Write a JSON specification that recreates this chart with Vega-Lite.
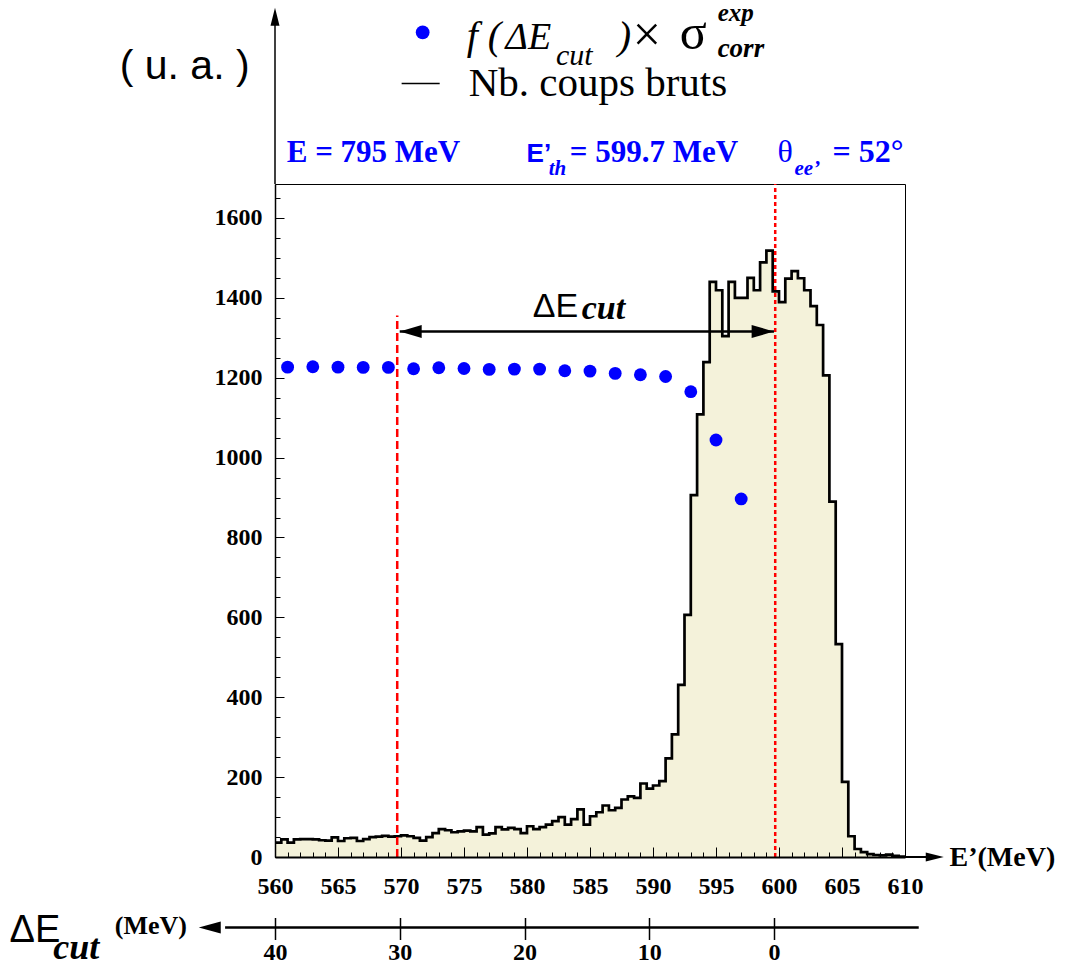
{
  "$schema": "https://vega.github.io/schema/vega-lite/v6.json",
  "autosize": {"type": "none"},
  "width": 630,
  "height": 673,
  "padding": {"left": 275, "top": 184, "right": 162, "bottom": 111},
  "background": "white",
  "config": {"view": {"stroke": "black", "strokeWidth": 1}},
  "datasets": {
    "hist": [
      {"E": 560, "n": 36}, {"E": 560.5, "n": 44}, {"E": 561, "n": 36}, {"E": 561.5, "n": 44}, {"E": 562, "n": 45},
      {"E": 562.5, "n": 45}, {"E": 563, "n": 44}, {"E": 563.5, "n": 42}, {"E": 564, "n": 41}, {"E": 564.5, "n": 49},
      {"E": 565, "n": 40}, {"E": 565.5, "n": 47}, {"E": 566, "n": 48}, {"E": 566.5, "n": 40}, {"E": 567, "n": 45},
      {"E": 567.5, "n": 50}, {"E": 568, "n": 51}, {"E": 568.5, "n": 53}, {"E": 569, "n": 51}, {"E": 569.5, "n": 52},
      {"E": 570, "n": 54}, {"E": 570.5, "n": 52}, {"E": 571, "n": 48}, {"E": 571.5, "n": 41}, {"E": 572, "n": 50},
      {"E": 572.5, "n": 60}, {"E": 573, "n": 70}, {"E": 573.5, "n": 67}, {"E": 574, "n": 62}, {"E": 574.5, "n": 64},
      {"E": 575, "n": 66}, {"E": 575.5, "n": 64}, {"E": 576, "n": 75}, {"E": 576.5, "n": 56}, {"E": 577, "n": 59},
      {"E": 577.5, "n": 75}, {"E": 578, "n": 69}, {"E": 578.5, "n": 73}, {"E": 579, "n": 70}, {"E": 579.5, "n": 60},
      {"E": 580, "n": 77}, {"E": 580.5, "n": 70}, {"E": 581, "n": 75}, {"E": 581.5, "n": 81}, {"E": 582, "n": 90},
      {"E": 582.5, "n": 100}, {"E": 583, "n": 81}, {"E": 583.5, "n": 95}, {"E": 584, "n": 119}, {"E": 584.5, "n": 81},
      {"E": 585, "n": 102}, {"E": 585.5, "n": 112}, {"E": 586, "n": 129}, {"E": 586.5, "n": 117}, {"E": 587, "n": 123},
      {"E": 587.5, "n": 144}, {"E": 588, "n": 152}, {"E": 588.5, "n": 148}, {"E": 589, "n": 184}, {"E": 589.5, "n": 171},
      {"E": 590, "n": 179}, {"E": 590.5, "n": 190}, {"E": 591, "n": 247}, {"E": 591.5, "n": 307}, {"E": 592, "n": 431},
      {"E": 592.5, "n": 606}, {"E": 593, "n": 906}, {"E": 593.5, "n": 1108}, {"E": 594, "n": 1239}, {"E": 594.5, "n": 1440},
      {"E": 595, "n": 1419}, {"E": 595.5, "n": 1304}, {"E": 596, "n": 1440}, {"E": 596.5, "n": 1400}, {"E": 597, "n": 1400},
      {"E": 597.5, "n": 1450}, {"E": 598, "n": 1419}, {"E": 598.5, "n": 1489}, {"E": 599, "n": 1518}, {"E": 599.5, "n": 1416},
      {"E": 600, "n": 1389}, {"E": 600.5, "n": 1448}, {"E": 601, "n": 1467}, {"E": 601.5, "n": 1449}, {"E": 602, "n": 1419},
      {"E": 602.5, "n": 1379}, {"E": 603, "n": 1332}, {"E": 603.5, "n": 1206}, {"E": 604, "n": 890}, {"E": 604.5, "n": 533},
      {"E": 605, "n": 188}, {"E": 605.5, "n": 52}, {"E": 606, "n": 20}, {"E": 606.5, "n": 12}, {"E": 607, "n": 7},
      {"E": 607.5, "n": 5}, {"E": 608, "n": 4}, {"E": 608.5, "n": 6}, {"E": 609, "n": 3}, {"E": 609.5, "n": 1},
      {"E": 610, "n": 1}
    ],
    "dots": [
      {"E": 561, "f": 1226.5}, {"E": 563, "f": 1227.5}, {"E": 565, "f": 1226.5}, {"E": 567, "f": 1225.8},
      {"E": 569, "f": 1225.8}, {"E": 571, "f": 1222.5}, {"E": 573, "f": 1225}, {"E": 575, "f": 1223},
      {"E": 577, "f": 1220.8}, {"E": 579, "f": 1221.5}, {"E": 581, "f": 1221.5}, {"E": 583, "f": 1217.5},
      {"E": 585, "f": 1216.5}, {"E": 587, "f": 1210.8}, {"E": 589, "f": 1207.5}, {"E": 591, "f": 1203},
      {"E": 593, "f": 1165}, {"E": 595, "f": 1044}, {"E": 597, "f": 896.5}
    ]
  },
  "layer": [
    {
      "data": {"name": "hist"},
      "mark": {"type": "area", "interpolate": "step-after", "fill": "#F4F2DA"},
      "encoding": {
        "x": {"field": "E", "type": "quantitative",
          "scale": {"domain": [560, 610], "nice": false, "zero": false},
          "axis": {"orient": "bottom", "values": [560, 565, 570, 575, 580, 585, 590, 595, 600, 605, 610], "zindex": 1,
            "tickSize": -10, "tickWidth": 1, "tickColor": "black", "domainColor": "black", "domainWidth": 2,
            "grid": false, "title": null, "format": "d", "labelFont": "Liberation Serif", "labelFontWeight": "bold",
            "labelFontSize": 24, "labelColor": "black", "labelPadding": 27, "labelFlush": false, "labelOverlap": false}},
        "y": {"field": "n", "type": "quantitative",
          "scale": {"domain": [0, 1685], "nice": false, "zero": false},
          "axis": {"orient": "left", "values": [0, 200, 400, 600, 800, 1000, 1200, 1400, 1600], "zindex": 1,
            "tickSize": -9, "tickWidth": 1, "tickColor": "black", "domainColor": "black", "domainWidth": 1.5,
            "grid": false, "title": null, "format": "d", "labelFont": "Liberation Serif", "labelFontWeight": "bold",
            "labelFontSize": 24, "labelColor": "black", "labelPadding": 22, "labelOverlap": false}}
      }
    },
    {
      "data": {"name": "hist"},
      "layer": [
        {
          "mark": {"type": "line", "interpolate": "step-after", "color": "black", "strokeWidth": 2.7},
          "encoding": {
            "x": {"field": "E", "type": "quantitative", "scale": {"domain": [560, 610], "nice": false, "zero": false}, "axis": null},
            "y": {"field": "n", "type": "quantitative", "scale": {"domain": [0, 1685], "nice": false, "zero": false}, "axis": null}
          }
        },
        {
          "data": {"values": [{}]},
          "mark": {"type": "rule", "color": "#FF0000", "strokeWidth": 2.5, "strokeDash": [8, 4]},
          "encoding": {
            "x": {"datum": 569.7, "type": "quantitative", "axis": null},
            "y": {"datum": 0, "type": "quantitative", "axis": null},
            "y2": {"datum": 1356}
          }
        },
        {
          "data": {"values": [{}]},
          "mark": {"type": "rule", "color": "#FF0000", "strokeWidth": 2.5, "strokeDash": [4, 3]},
          "encoding": {
            "x": {"datum": 599.7, "type": "quantitative", "axis": null},
            "y": {"datum": 0, "type": "quantitative", "axis": null},
            "y2": {"datum": 1685}
          }
        },
        {
          "data": {"name": "dots"},
          "mark": {"type": "point", "filled": true, "color": "#0000FF", "size": 165, "opacity": 1},
          "encoding": {
            "x": {"field": "E", "type": "quantitative", "axis": null},
            "y": {"field": "f", "type": "quantitative", "axis": null}
          }
        },
        {
          "data": {"values": [{}]},
          "mark": {"type": "rule", "color": "black", "strokeWidth": 2.5},
          "encoding": {
            "x": {"datum": 569.9, "type": "quantitative", "axis": null},
            "x2": {"datum": 599.6},
            "y": {"datum": 1315.7, "type": "quantitative", "axis": null}
          }
        },
        {
          "data": {"values": [{}]},
          "mark": {"type": "point", "shape": "M-1,0L1,-0.6L1,0.6Z", "filled": true, "color": "black", "size": 484, "opacity": 1},
          "encoding": {
            "x": {"datum": 570.77, "type": "quantitative", "axis": null},
            "y": {"datum": 1315.7, "type": "quantitative", "axis": null}
          }
        },
        {
          "data": {"values": [{}]},
          "mark": {"type": "point", "shape": "M1,0L-1,-0.6L-1,0.6Z", "filled": true, "color": "black", "size": 484, "opacity": 1},
          "encoding": {
            "x": {"datum": 598.7, "type": "quantitative", "axis": null},
            "y": {"datum": 1315.7, "type": "quantitative", "axis": null}
          }
        },
        {
          "data": {"values": [{}]},
          "mark": {"type": "rule", "color": "black", "strokeWidth": 1.5},
          "encoding": {
            "x": {"datum": 560, "type": "quantitative", "axis": null},
            "y": {"datum": 1685, "type": "quantitative", "axis": null},
            "y2": {"datum": 2110}
          }
        },
        {
          "data": {"values": [{}]},
          "mark": {"type": "point", "shape": "M0,-1L0.5,1L-0.5,1Z", "filled": true, "color": "black", "size": 324, "opacity": 1},
          "encoding": {
            "x": {"datum": 560, "type": "quantitative", "axis": null},
            "y": {"datum": 2104, "type": "quantitative", "axis": null}
          }
        },
        {
          "data": {"values": [{}]},
          "mark": {"type": "rule", "color": "black", "strokeWidth": 2},
          "encoding": {
            "x": {"datum": 610, "type": "quantitative", "axis": null},
            "x2": {"datum": 612.5},
            "y": {"datum": 0, "type": "quantitative", "axis": null}
          }
        },
        {
          "data": {"values": [{}]},
          "mark": {"type": "point", "shape": "M1,0L-1,-0.5L-1,0.5Z", "filled": true, "color": "black", "size": 324, "opacity": 1},
          "encoding": {
            "x": {"datum": 612.36, "type": "quantitative", "axis": null},
            "y": {"datum": 0, "type": "quantitative", "axis": null}
          }
        },
        {
          "data": {"values": [{}]},
          "mark": {"type": "point", "shape": "M-1,0L1,-0.55L1,0.55Z", "filled": true, "color": "black", "size": 484, "opacity": 1},
          "encoding": {
            "x": {"datum": 554.82, "type": "quantitative", "axis": null},
            "y": {"datum": -176.5, "type": "quantitative", "axis": null}
          }
        },
        {
          "data": {"values": [{}]},
          "mark": {"type": "point", "filled": true, "color": "#0000FF", "size": 190, "opacity": 1},
          "encoding": {
            "x": {"datum": 571.72, "type": "quantitative", "axis": null},
            "y": {"datum": 2064.4, "type": "quantitative", "axis": null}
          }
        },
        {
          "data": {"values": [{}]},
          "mark": {"type": "rule", "color": "black", "strokeWidth": 1.5},
          "encoding": {
            "x": {"datum": 570.05, "type": "quantitative", "axis": null},
            "x2": {"datum": 573.07},
            "y": {"datum": 1936.7, "type": "quantitative", "axis": null}
          }
        },
        {
          "data": {"values": [{"t": "( u. a. )"}]},
          "mark": {"type": "text", "font": "Liberation Sans", "fontSize": 41, "align": "center", "baseline": "alphabetic", "color": "black"},
          "encoding": {
            "text": {"field": "t"},
            "x": {"datum": 552.83, "type": "quantitative", "axis": null},
            "y": {"datum": 1946.9, "type": "quantitative", "axis": null}
          }
        },
        {
          "data": {"values": [{"t": "f ("}]},
          "mark": {"type": "text", "font": "Liberation Serif", "fontSize": 40, "fontStyle": "italic", "align": "left", "baseline": "alphabetic", "color": "black"},
          "encoding": {
            "text": {"field": "t"},
            "x": {"datum": 575.21, "type": "quantitative", "axis": null},
            "y": {"datum": 2021.8, "type": "quantitative", "axis": null}
          }
        },
        {
          "data": {"values": [{"t": "ΔE"}]},
          "mark": {"type": "text", "font": "Liberation Serif", "fontSize": 38, "fontStyle": "italic", "align": "left", "baseline": "alphabetic", "color": "black"},
          "encoding": {
            "text": {"field": "t"},
            "x": {"datum": 578.3, "type": "quantitative", "axis": null},
            "y": {"datum": 2021.8, "type": "quantitative", "axis": null}
          }
        },
        {
          "data": {"values": [{"t": "cut"}]},
          "mark": {"type": "text", "font": "Liberation Serif", "fontSize": 30, "fontStyle": "italic", "align": "left", "baseline": "alphabetic", "color": "black"},
          "encoding": {
            "text": {"field": "t"},
            "x": {"datum": 582.3, "type": "quantitative", "axis": null},
            "y": {"datum": 1981.7, "type": "quantitative", "axis": null}
          }
        },
        {
          "data": {"values": [{"t": ")"}]},
          "mark": {"type": "text", "font": "Liberation Serif", "fontSize": 40, "fontStyle": "italic", "align": "left", "baseline": "alphabetic", "color": "black"},
          "encoding": {
            "text": {"field": "t"},
            "x": {"datum": 587.2, "type": "quantitative", "axis": null},
            "y": {"datum": 2021.8, "type": "quantitative", "axis": null}
          }
        },
        {
          "data": {"values": [{"t": "×"}]},
          "mark": {"type": "text", "font": "Liberation Serif", "fontSize": 50, "align": "left", "baseline": "alphabetic", "color": "black"},
          "encoding": {
            "text": {"field": "t"},
            "x": {"datum": 588.4, "type": "quantitative", "axis": null},
            "y": {"datum": 2019, "type": "quantitative", "axis": null}
          }
        },
        {
          "data": {"values": [{"t": "σ"}]},
          "mark": {"type": "text", "font": "Liberation Serif", "fontSize": 50, "align": "left", "baseline": "alphabetic", "color": "black"},
          "encoding": {
            "text": {"field": "t"},
            "x": {"datum": 592.12, "type": "quantitative", "axis": null},
            "y": {"datum": 2021.8, "type": "quantitative", "axis": null}
          }
        },
        {
          "data": {"values": [{"t": "exp"}]},
          "mark": {"type": "text", "font": "Liberation Serif", "fontSize": 25, "fontStyle": "italic", "fontWeight": "bold", "align": "left", "baseline": "alphabetic", "color": "black"},
          "encoding": {
            "text": {"field": "t"},
            "x": {"datum": 595.13, "type": "quantitative", "axis": null},
            "y": {"datum": 2092, "type": "quantitative", "axis": null}
          }
        },
        {
          "data": {"values": [{"t": "corr"}]},
          "mark": {"type": "text", "font": "Liberation Serif", "fontSize": 27, "fontStyle": "italic", "fontWeight": "bold", "align": "left", "baseline": "alphabetic", "color": "black"},
          "encoding": {
            "text": {"field": "t"},
            "x": {"datum": 595.13, "type": "quantitative", "axis": null},
            "y": {"datum": 2001.8, "type": "quantitative", "axis": null}
          }
        },
        {
          "data": {"values": [{"t": "Nb. coups bruts"}]},
          "mark": {"type": "text", "font": "Liberation Serif", "fontSize": 41, "align": "left", "baseline": "alphabetic", "color": "black"},
          "encoding": {
            "text": {"field": "t"},
            "x": {"datum": 575.37, "type": "quantitative", "axis": null},
            "y": {"datum": 1904.1, "type": "quantitative", "axis": null}
          }
        },
        {
          "data": {"values": [{"t": "E = 795 MeV"}]},
          "mark": {"type": "text", "font": "Liberation Serif", "fontSize": 31, "fontWeight": "bold", "align": "left", "baseline": "alphabetic", "color": "#0000FF"},
          "encoding": {
            "text": {"field": "t"},
            "x": {"datum": 560.93, "type": "quantitative", "axis": null},
            "y": {"datum": 1738.9, "type": "quantitative", "axis": null}
          }
        },
        {
          "data": {"values": [{"t": "E’"}]},
          "mark": {"type": "text", "font": "Liberation Sans", "fontSize": 26, "fontWeight": "bold", "align": "left", "baseline": "alphabetic", "color": "#0000FF"},
          "encoding": {
            "text": {"field": "t"},
            "x": {"datum": 579.97, "type": "quantitative", "axis": null},
            "y": {"datum": 1738.9, "type": "quantitative", "axis": null}
          }
        },
        {
          "data": {"values": [{"t": "th"}]},
          "mark": {"type": "text", "font": "Liberation Serif", "fontSize": 21, "fontStyle": "italic", "fontWeight": "bold", "align": "left", "baseline": "alphabetic", "color": "#0000FF"},
          "encoding": {
            "text": {"field": "t"},
            "x": {"datum": 581.72, "type": "quantitative", "axis": null},
            "y": {"datum": 1706.3, "type": "quantitative", "axis": null}
          }
        },
        {
          "data": {"values": [{"t": "= 599.7 MeV"}]},
          "mark": {"type": "text", "font": "Liberation Serif", "fontSize": 31, "fontWeight": "bold", "align": "left", "baseline": "alphabetic", "color": "#0000FF"},
          "encoding": {
            "text": {"field": "t"},
            "x": {"datum": 583.39, "type": "quantitative", "axis": null},
            "y": {"datum": 1738.9, "type": "quantitative", "axis": null}
          }
        },
        {
          "data": {"values": [{"t": "θ"}]},
          "mark": {"type": "text", "font": "Liberation Serif", "fontSize": 32, "align": "left", "baseline": "alphabetic", "color": "#0000FF"},
          "encoding": {
            "text": {"field": "t"},
            "x": {"datum": 599.88, "type": "quantitative", "axis": null},
            "y": {"datum": 1738.9, "type": "quantitative", "axis": null}
          }
        },
        {
          "data": {"values": [{"t": "ee’"}]},
          "mark": {"type": "text", "font": "Liberation Serif", "fontSize": 21, "fontStyle": "italic", "fontWeight": "bold", "align": "left", "baseline": "alphabetic", "color": "#0000FF"},
          "encoding": {
            "text": {"field": "t"},
            "x": {"datum": 601.23, "type": "quantitative", "axis": null},
            "y": {"datum": 1706.3, "type": "quantitative", "axis": null}
          }
        },
        {
          "data": {"values": [{"t": "= 52°"}]},
          "mark": {"type": "text", "font": "Liberation Serif", "fontSize": 32, "fontWeight": "bold", "align": "left", "baseline": "alphabetic", "color": "#0000FF"},
          "encoding": {
            "text": {"field": "t"},
            "x": {"datum": 604.25, "type": "quantitative", "axis": null},
            "y": {"datum": 1738.9, "type": "quantitative", "axis": null}
          }
        },
        {
          "data": {"values": [{"t": "E’(MeV)"}]},
          "mark": {"type": "text", "font": "Liberation Serif", "fontSize": 28, "fontWeight": "bold", "align": "left", "baseline": "alphabetic", "color": "black"},
          "encoding": {
            "text": {"field": "t"},
            "x": {"datum": 613.53, "type": "quantitative", "axis": null},
            "y": {"datum": -22, "type": "quantitative", "axis": null}
          }
        },
        {
          "data": {"values": [{"t": "ΔE"}]},
          "mark": {"type": "text", "font": "Liberation Sans", "fontSize": 34, "align": "left", "baseline": "alphabetic", "color": "black"},
          "encoding": {
            "text": {"field": "t"},
            "x": {"datum": 580.45, "type": "quantitative", "axis": null},
            "y": {"datum": 1350.8, "type": "quantitative", "axis": null}
          }
        },
        {
          "data": {"values": [{"t": "cut"}]},
          "mark": {"type": "text", "font": "Liberation Serif", "fontSize": 34, "fontStyle": "italic", "fontWeight": "bold", "align": "left", "baseline": "alphabetic", "color": "black"},
          "encoding": {
            "text": {"field": "t"},
            "x": {"datum": 584.34, "type": "quantitative", "axis": null},
            "y": {"datum": 1345.8, "type": "quantitative", "axis": null}
          }
        },
        {
          "data": {"values": [{"t": "ΔE"}]},
          "mark": {"type": "text", "font": "Liberation Sans", "fontSize": 38, "align": "left", "baseline": "alphabetic", "color": "black"},
          "encoding": {
            "text": {"field": "t"},
            "x": {"datum": 538.93, "type": "quantitative", "axis": null},
            "y": {"datum": -214, "type": "quantitative", "axis": null}
          }
        },
        {
          "data": {"values": [{"t": "cut"}]},
          "mark": {"type": "text", "font": "Liberation Serif", "fontSize": 36, "fontStyle": "italic", "fontWeight": "bold", "align": "left", "baseline": "alphabetic", "color": "black"},
          "encoding": {
            "text": {"field": "t"},
            "x": {"datum": 542.4, "type": "quantitative", "axis": null},
            "y": {"datum": -256.6, "type": "quantitative", "axis": null}
          }
        },
        {
          "data": {"values": [{"t": "(MeV)"}]},
          "mark": {"type": "text", "font": "Liberation Serif", "fontSize": 26, "fontWeight": "bold", "align": "left", "baseline": "alphabetic", "color": "black"},
          "encoding": {
            "text": {"field": "t"},
            "x": {"datum": 547.29, "type": "quantitative", "axis": null},
            "y": {"datum": -192, "type": "quantitative", "axis": null}
          }
        }
      ]
    },
    {
      "data": {"name": "hist"},
      "mark": {"type": "point", "opacity": 0},
      "encoding": {
        "x": {"field": "E", "type": "quantitative",
          "scale": {"domain": [560, 610], "nice": false, "zero": false},
          "axis": {"orient": "bottom", "zindex": 1, "values": [560, 561, 562, 563, 564, 565, 566, 567, 568, 569, 570, 571, 572, 573, 574, 575, 576, 577, 578, 579, 580, 581, 582, 583, 584, 585, 586, 587, 588, 589, 590, 591, 592, 593, 594, 595, 596, 597, 598, 599, 600, 601, 602, 603, 604, 605, 606, 607, 608, 609, 610],
            "tickSize": -5, "tickWidth": 1, "tickColor": "black", "labels": false, "domain": false, "grid": false, "title": null}},
        "y": {"field": "n", "type": "quantitative",
          "scale": {"domain": [0, 1685], "nice": false, "zero": false},
          "axis": {"orient": "left", "zindex": 1, "values": [0, 50, 100, 150, 200, 250, 300, 350, 400, 450, 500, 550, 600, 650, 700, 750, 800, 850, 900, 950, 1000, 1050, 1100, 1150, 1200, 1250, 1300, 1350, 1400, 1450, 1500, 1550, 1600, 1650],
            "tickSize": -5, "tickWidth": 1, "tickColor": "black", "labels": false, "domain": false, "grid": false, "title": null}}
      }
    },
    {
      "data": {"values": [{}]},
      "mark": {"type": "rule", "color": "black", "strokeWidth": 2.5},
      "encoding": {
        "x": {"datum": 44.0, "type": "quantitative",
          "scale": {"domain": [-10.5, 40], "reverse": true, "nice": false, "zero": false},
          "axis": {"orient": "bottom", "values": [0, 10, 20, 30, 40], "offset": 60.5, "tickSize": 22, "tickWidth": 1.5,
            "tickColor": "black", "domain": false, "grid": false, "title": null, "format": "d", "labelFont": "Liberation Serif",
            "labelFontWeight": "bold", "labelFontSize": 24, "labelColor": "black", "labelPadding": 1,
            "labelFlush": false, "labelOverlap": false}},
        "x2": {"datum": -11.6},
        "y": {"datum": -176.5, "type": "quantitative", "scale": {"domain": [0, 1685], "nice": false, "zero": false}, "axis": null}
      }
    }
  ],
  "resolve": {"scale": {"x": "independent"}, "axis": {"x": "independent", "y": "independent"}}
}
